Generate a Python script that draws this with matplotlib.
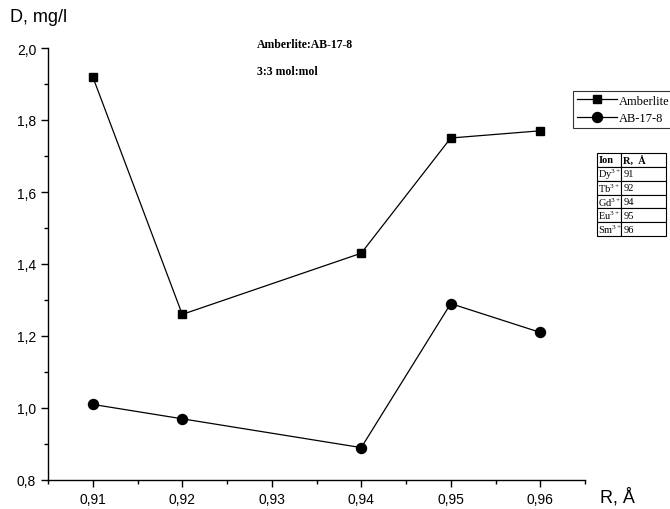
import matplotlib
matplotlib.use("Agg")
import matplotlib.pyplot as plt
from matplotlib.ticker import MultipleLocator, FuncFormatter

R = [0.91, 0.92, 0.94, 0.95, 0.96]
amberlite = [1.92, 1.26, 1.43, 1.75, 1.77]
ab17 = [1.01, 0.97, 0.89, 1.29, 1.21]
ions = ["Dy$^{3+}$", "Tb$^{3+}$", "Gd$^{3+}$", "Eu$^{3+}$", "Sm$^{3+}$"]
radii = ["91", "92", "94", "95", "96"]

plt.rcParams['mathtext.fontset'] = 'custom'
plt.rcParams['mathtext.rm'] = 'Liberation Serif'
plt.rcParams['mathtext.it'] = 'Liberation Serif'

fig = plt.figure(figsize=(6.7, 5.1), dpi=100)
ax = fig.add_axes([48/670, 29/510, (585-48)/670, (481-49)/510])

ax.plot(R, amberlite, color='black', lw=0.9, marker='s', ms=5.8, label='Amberlite')
ax.plot(R, ab17, color='black', lw=0.9, marker='o', ms=7.2, label='AB-17-8')

ax.set_xlim(0.905, 0.965)
ax.set_ylim(0.8, 2.0)
ax.xaxis.set_major_locator(MultipleLocator(0.01))
ax.xaxis.set_minor_locator(MultipleLocator(0.005))
ax.yaxis.set_major_locator(MultipleLocator(0.2))
ax.yaxis.set_minor_locator(MultipleLocator(0.1))
ax.xaxis.set_major_formatter(FuncFormatter(lambda v, p: f"{v:.2f}".replace('.', ',')))
ax.yaxis.set_major_formatter(FuncFormatter(lambda v, p: f"{v:.1f}".replace('.', ',')))
for s in ['top', 'right']:
    ax.spines[s].set_visible(False)
for s in ['left', 'bottom']:
    ax.spines[s].set_linewidth(1.0)
ax.tick_params(which='major', direction='out', length=5, width=1, labelsize=10)
ax.tick_params(which='minor', direction='out', length=3, width=1)
for lab in ax.get_xticklabels() + ax.get_yticklabels():
    lab.set_fontfamily('Liberation Sans')

fig.text(10/670, 1 - 18/510, "D, mg/l", fontsize=13, family='Liberation Sans', va='center', ha='left')
fig.text(600/670, 1 - 497/510, "R, Å", fontsize=13, family='Liberation Sans', va='center', ha='left')

fig.text(257/670, 1 - 45/510, "Amberlite:AB-17-8", fontsize=8.5, family='Liberation Serif',
         fontweight='bold', va='center', ha='left')
fig.text(257/670, 1 - 72/510, "3:3 mol:mol", fontsize=8.5, family='Liberation Serif',
         fontweight='bold', va='center', ha='left')

leg = ax.legend(loc='upper left', bbox_to_anchor=(573/670, 1 - 92/510), bbox_transform=fig.transFigure,
                prop={'family': 'Liberation Serif', 'size': 9}, frameon=True, fancybox=False,
                edgecolor='black', handlelength=3.2, handletextpad=0.15, borderpad=0.3,
                labelspacing=0.45, borderaxespad=0)
leg.get_frame().set_linewidth(0.8)

tax = fig.add_axes([597/670, 1 - 237/510, (666-597)/670, (237-154)/510])
tax.axis('off')
cells = [["Ion", "R,  Å"]] + [[i, r] for i, r in zip(ions, radii)]
tbl = tax.table(cellText=cells, bbox=[0, 0, 1, 1], colWidths=[24/69, 45/69], cellLoc='left')
tbl.auto_set_font_size(False)
for (r, c), cell in tbl.get_celld().items():
    cell.set_linewidth(0.8)
    cell.PAD = 0.05
    t = cell.get_text()
    t.set_fontsize(7.5)
    t.set_fontfamily('Liberation Serif')
    if r == 0:
        t.set_fontweight('bold')

fig.savefig("out.png", dpi=100)
